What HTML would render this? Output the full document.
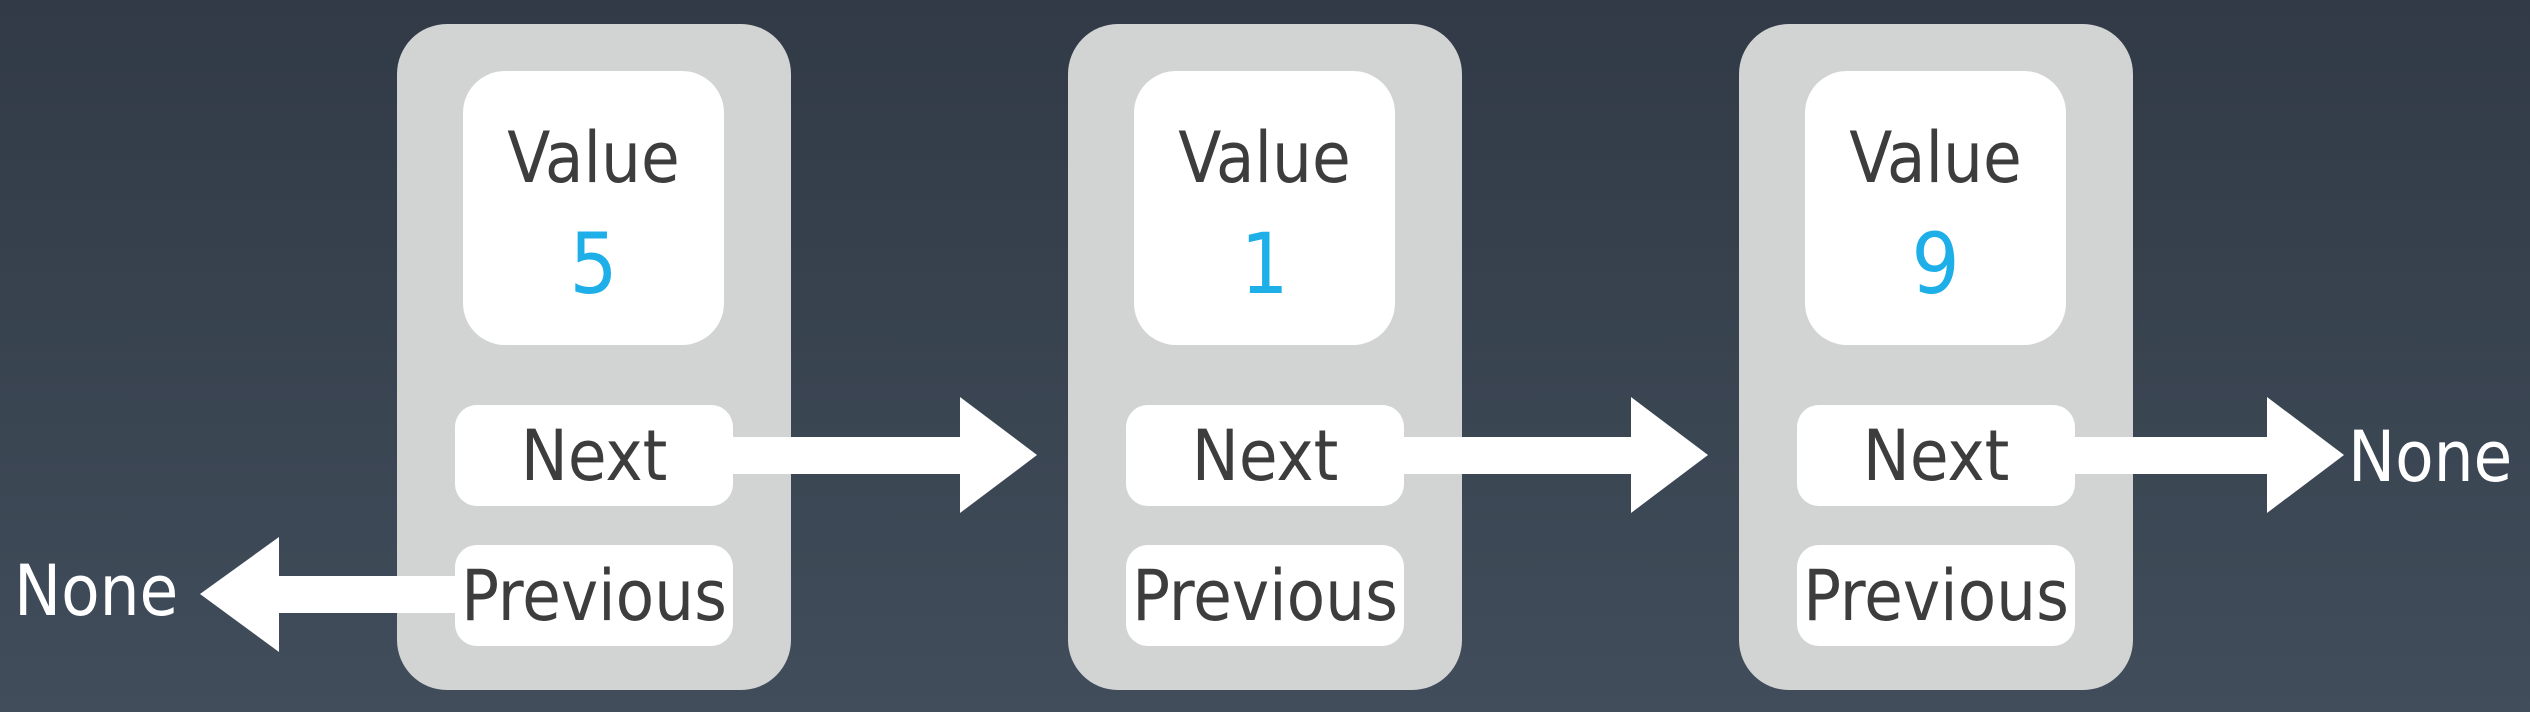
<!DOCTYPE html>
<html><head><meta charset="utf-8"><style>
html,body{margin:0;padding:0}
body{width:2530px;height:712px;overflow:hidden;background:linear-gradient(#313a46,#414d5b);position:relative;font-family:"DejaVu Sans Condensed","Liberation Sans Narrow","Liberation Sans",sans-serif;}
.card{position:absolute;top:24px;width:394px;height:666px;background:#d2d3d3;border-radius:50px}
.val{position:absolute;left:66px;top:47px;width:261px;height:274px;background:#fff;border-radius:42px;text-align:center;color:#3d3d3d}
.val .t{position:absolute;left:0;right:0;top:92px;font-size:70px;line-height:1;margin-top:-40px}
.val .n{position:absolute;left:0;right:0;top:181px;font-size:84px;line-height:1;color:#1eaee8;margin-top:-30px}
.box{position:absolute;left:58px;width:278px;height:101px;background:#fff;border-radius:22px;color:#3d3d3d;font-size:70px;display:flex;align-items:center;justify-content:center;white-space:nowrap}
.none{position:absolute;color:#fff;font-size:70px;line-height:1}
svg{position:absolute;left:0;top:0}
</style></head><body>
<div class="card" style="left:397px">
 <div class="val"><div class="t">Value</div><div class="n">5</div></div>
 <div class="box" style="top:381px">Next</div>
 <div class="box" style="top:521px">Previous</div>
</div>
<div class="card" style="left:1068px">
 <div class="val"><div class="t">Value</div><div class="n">1</div></div>
 <div class="box" style="top:381px">Next</div>
 <div class="box" style="top:521px">Previous</div>
</div>
<div class="card" style="left:1739px">
 <div class="val"><div class="t">Value</div><div class="n">9</div></div>
 <div class="box" style="top:381px">Next</div>
 <div class="box" style="top:521px">Previous</div>
</div>
<svg width="2530" height="712">
<g fill="#fff">
<rect x="733" y="437" width="240" height="37"/><polygon points="960,397 1037,455 960,513"/>
<rect x="1404" y="437" width="240" height="37"/><polygon points="1631,397 1708,455 1631,513"/>
<rect x="2075" y="437" width="200" height="37"/><polygon points="2267,397 2344,455 2267,513"/>
<rect x="270" y="576" width="185" height="37"/><polygon points="279,537 200,594 279,652"/>
</g></svg>
<div class="none" style="left:14px;top:556px">None</div>
<div class="none" style="left:2348px;top:422px">None</div>
</body></html>
